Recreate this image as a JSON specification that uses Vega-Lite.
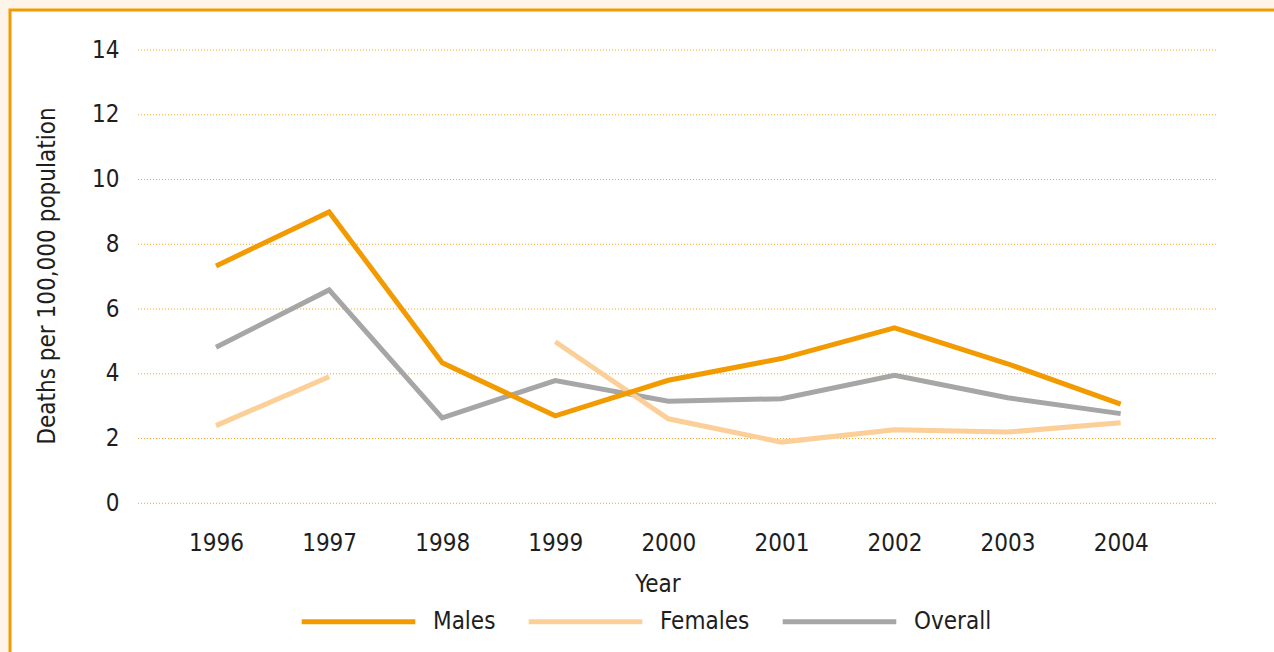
{
  "$schema": "https://vega.github.io/schema/vega-lite/v6.json",
  "width": 1264,
  "height": 642,
  "autosize": {"type": "none"},
  "padding": {"left": 10, "top": 10, "right": 0, "bottom": 0},
  "background": "#FFF4E8",
  "config": {
    "view": {"fill": "#FFFFFF", "stroke": "#F29B00", "strokeWidth": 3, "strokeDash": [1264, 1906, 642]},
    "font": "'Liberation Sans Narrow', 'DejaVu Sans Condensed', 'Roboto Condensed', 'Liberation Sans', sans-serif"
  },
  "datasets": {
    "rates": [
      {"year": 1996, "group": "Overall", "rate": 4.82},
      {"year": 1997, "group": "Overall", "rate": 6.59},
      {"year": 1998, "group": "Overall", "rate": 2.64},
      {"year": 1999, "group": "Overall", "rate": 3.79},
      {"year": 2000, "group": "Overall", "rate": 3.15},
      {"year": 2001, "group": "Overall", "rate": 3.23},
      {"year": 2002, "group": "Overall", "rate": 3.95},
      {"year": 2003, "group": "Overall", "rate": 3.26},
      {"year": 2004, "group": "Overall", "rate": 2.77},
      {"year": 1996, "group": "Females", "rate": 2.40},
      {"year": 1997, "group": "Females", "rate": 3.91},
      {"year": 1998, "group": "Females", "rate": null},
      {"year": 1999, "group": "Females", "rate": 4.99},
      {"year": 2000, "group": "Females", "rate": 2.61},
      {"year": 2001, "group": "Females", "rate": 1.89},
      {"year": 2002, "group": "Females", "rate": 2.27},
      {"year": 2003, "group": "Females", "rate": 2.20},
      {"year": 2004, "group": "Females", "rate": 2.49},
      {"year": 1996, "group": "Males", "rate": 7.33},
      {"year": 1997, "group": "Males", "rate": 9.00},
      {"year": 1998, "group": "Males", "rate": 4.34},
      {"year": 1999, "group": "Males", "rate": 2.70},
      {"year": 2000, "group": "Males", "rate": 3.80},
      {"year": 2001, "group": "Males", "rate": 4.47},
      {"year": 2002, "group": "Males", "rate": 5.42},
      {"year": 2003, "group": "Males", "rate": 4.31},
      {"year": 2004, "group": "Males", "rate": 3.06}
    ],
    "gridlines": [
      {"level": 0}, {"level": 2}, {"level": 4}, {"level": 6},
      {"level": 8}, {"level": 10}, {"level": 12}, {"level": 14}
    ]
  },
  "layer": [
    {
      "data": {"name": "gridlines"},
      "mark": {"type": "rule", "color": "#F5A51C", "strokeWidth": 1, "strokeDash": [1, 2]},
      "encoding": {
        "y": {"field": "level", "type": "quantitative"},
        "x": {"datum": 1995.31, "type": "quantitative"},
        "x2": {"datum": 2004.86}
      }
    },
    {
      "data": {"name": "rates"},
      "mark": {"type": "line", "strokeWidth": 5, "invalid": "break-paths-filter-domains"},
      "encoding": {
        "x": {
          "field": "year",
          "type": "quantitative",
          "scale": {"domain": [1994.178, 2005.356], "nice": false, "zero": false},
          "axis": {
            "title": "Year",
            "values": [1996, 1997, 1998, 1999, 2000, 2001, 2002, 2003, 2004],
            "format": "d",
            "grid": false,
            "domain": false,
            "ticks": false,
            "tickSize": 0,
            "offset": -149,
            "labelPadding": 47,
            "labelBaseline": "alphabetic",
            "labelFontSize": 24,
            "labelColor": "#1E1E1E",
            "titleFontSize": 24,
            "titleFontWeight": "normal",
            "titleColor": "#1E1E1E",
            "titleX": 647.5,
            "titleY": 88.7,
            "titleAlign": "center",
            "titleBaseline": "alphabetic"
          }
        },
        "y": {
          "field": "rate",
          "type": "quantitative",
          "scale": {"domain": [-4.5925, 15.2354], "nice": false, "zero": false},
          "axis": {
            "title": "Deaths per 100,000 population",
            "values": [0, 2, 4, 6, 8, 10, 12, 14],
            "grid": false,
            "domain": false,
            "ticks": false,
            "tickSize": 0,
            "offset": -117,
            "labelPadding": 8,
            "labelFontSize": 24,
            "labelColor": "#1E1E1E",
            "titleFontSize": 24,
            "titleFontWeight": "normal",
            "titleColor": "#1E1E1E",
            "titleAngle": -90,
            "titleX": -73,
            "titleY": 265.5,
            "titleAlign": "center",
            "titleBaseline": "alphabetic"
          }
        },
        "color": {
          "field": "group",
          "type": "nominal",
          "scale": {
            "domain": ["Males", "Females", "Overall"],
            "range": ["#F29B00", "#FBCF97", "#A6A6A6"]
          },
          "legend": {
            "title": null,
            "orient": "none",
            "direction": "horizontal",
            "legendX": 289,
            "legendY": 552,
            "symbolType": "stroke",
            "symbolSize": 12900,
            "symbolStrokeWidth": 5,
            "labelOffset": 15,
            "columnPadding": 22,
            "labelFontSize": 24,
            "labelColor": "#1E1E1E",
            "labelLimit": 300
          }
        }
      }
    }
  ]
}
